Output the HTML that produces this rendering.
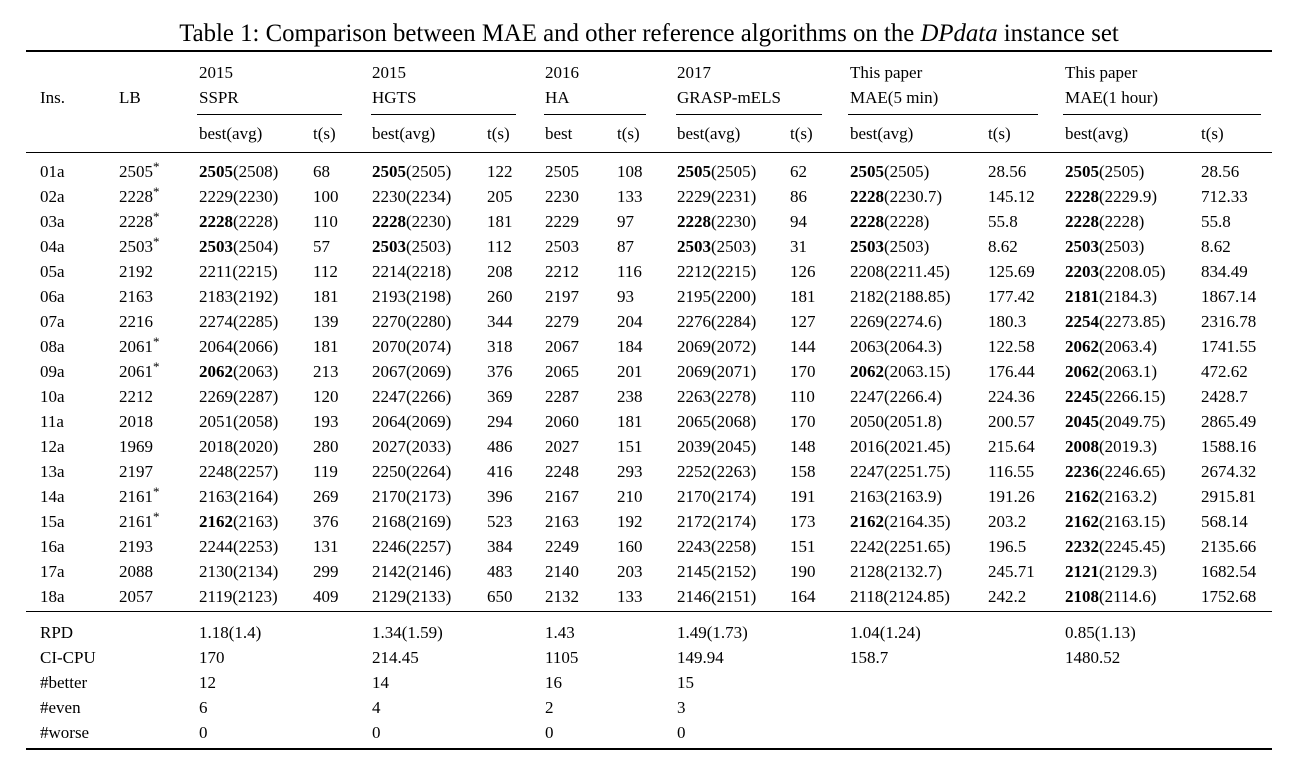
<!DOCTYPE html>
<html><head><meta charset="utf-8"><style>
body{margin:0;width:1308px;height:770px;background:#fff;font-family:"Liberation Serif",serif;color:#000;position:relative;overflow:hidden}
.t{position:absolute;left:0;top:20px;width:1298px;text-align:center;font-size:24.8px}
.r{position:absolute;left:26px;width:1246px;background:#000}
.c{position:absolute;height:1px;background:#000;top:114px}
table{position:absolute;left:40px;border-collapse:collapse;table-layout:fixed;font-size:17px}
td{padding:0;height:25px;line-height:25px;white-space:nowrap;vertical-align:middle}
sup{font-size:13px;vertical-align:6px;line-height:0}
</style></head><body>
<div class="t">Table 1: Comparison between MAE and other reference algorithms on the <i>DPdata</i> instance set</div>
<div class="r" style="top:50px;height:2px"></div>
<div class="c" style="left:197px;width:145px"></div>
<div class="c" style="left:371px;width:145px"></div>
<div class="c" style="left:544px;width:102px"></div>
<div class="c" style="left:676px;width:146px"></div>
<div class="c" style="left:848px;width:190px"></div>
<div class="c" style="left:1063px;width:198px"></div>
<div class="r" style="top:152px;height:1px"></div>
<div class="r" style="top:611px;height:1px"></div>
<div class="r" style="top:748px;height:2px"></div>
<table style="top:59.5px">
<colgroup><col style="width:79px"><col style="width:80px"><col style="width:114px"><col style="width:59px"><col style="width:115px"><col style="width:58px"><col style="width:72px"><col style="width:60px"><col style="width:113px"><col style="width:60px"><col style="width:138px"><col style="width:77px"><col style="width:136px"><col style="width:71px"></colgroup>
<tr><td></td><td></td><td>2015</td><td></td><td>2015</td><td></td><td>2016</td><td></td><td>2017</td><td></td><td>This paper</td><td></td><td>This paper</td><td></td></tr>
<tr><td>Ins.</td><td>LB</td><td>SSPR</td><td></td><td>HGTS</td><td></td><td>HA</td><td></td><td>GRASP-mELS</td><td></td><td>MAE(5 min)</td><td></td><td>MAE(1 hour)</td><td></td></tr>
<tr style="height:36px"><td></td><td></td><td style="padding-top:11px">best(avg)</td><td style="padding-top:11px">t(s)</td><td style="padding-top:11px">best(avg)</td><td style="padding-top:11px">t(s)</td><td style="padding-top:11px">best</td><td style="padding-top:11px">t(s)</td><td style="padding-top:11px">best(avg)</td><td style="padding-top:11px">t(s)</td><td style="padding-top:11px">best(avg)</td><td style="padding-top:11px">t(s)</td><td style="padding-top:11px">best(avg)</td><td style="padding-top:11px">t(s)</td></tr>
</table>
<table style="top:158.5px">
<colgroup><col style="width:79px"><col style="width:80px"><col style="width:114px"><col style="width:59px"><col style="width:115px"><col style="width:58px"><col style="width:72px"><col style="width:60px"><col style="width:113px"><col style="width:60px"><col style="width:138px"><col style="width:77px"><col style="width:136px"><col style="width:71px"></colgroup>
<tr><td>01a</td><td>2505<sup>*</sup></td><td><b>2505</b>(2508)</td><td>68</td><td><b>2505</b>(2505)</td><td>122</td><td>2505</td><td>108</td><td><b>2505</b>(2505)</td><td>62</td><td><b>2505</b>(2505)</td><td>28.56</td><td><b>2505</b>(2505)</td><td>28.56</td></tr>
<tr><td>02a</td><td>2228<sup>*</sup></td><td>2229(2230)</td><td>100</td><td>2230(2234)</td><td>205</td><td>2230</td><td>133</td><td>2229(2231)</td><td>86</td><td><b>2228</b>(2230.7)</td><td>145.12</td><td><b>2228</b>(2229.9)</td><td>712.33</td></tr>
<tr><td>03a</td><td>2228<sup>*</sup></td><td><b>2228</b>(2228)</td><td>110</td><td><b>2228</b>(2230)</td><td>181</td><td>2229</td><td>97</td><td><b>2228</b>(2230)</td><td>94</td><td><b>2228</b>(2228)</td><td>55.8</td><td><b>2228</b>(2228)</td><td>55.8</td></tr>
<tr><td>04a</td><td>2503<sup>*</sup></td><td><b>2503</b>(2504)</td><td>57</td><td><b>2503</b>(2503)</td><td>112</td><td>2503</td><td>87</td><td><b>2503</b>(2503)</td><td>31</td><td><b>2503</b>(2503)</td><td>8.62</td><td><b>2503</b>(2503)</td><td>8.62</td></tr>
<tr><td>05a</td><td>2192</td><td>2211(2215)</td><td>112</td><td>2214(2218)</td><td>208</td><td>2212</td><td>116</td><td>2212(2215)</td><td>126</td><td>2208(2211.45)</td><td>125.69</td><td><b>2203</b>(2208.05)</td><td>834.49</td></tr>
<tr><td>06a</td><td>2163</td><td>2183(2192)</td><td>181</td><td>2193(2198)</td><td>260</td><td>2197</td><td>93</td><td>2195(2200)</td><td>181</td><td>2182(2188.85)</td><td>177.42</td><td><b>2181</b>(2184.3)</td><td>1867.14</td></tr>
<tr><td>07a</td><td>2216</td><td>2274(2285)</td><td>139</td><td>2270(2280)</td><td>344</td><td>2279</td><td>204</td><td>2276(2284)</td><td>127</td><td>2269(2274.6)</td><td>180.3</td><td><b>2254</b>(2273.85)</td><td>2316.78</td></tr>
<tr><td>08a</td><td>2061<sup>*</sup></td><td>2064(2066)</td><td>181</td><td>2070(2074)</td><td>318</td><td>2067</td><td>184</td><td>2069(2072)</td><td>144</td><td>2063(2064.3)</td><td>122.58</td><td><b>2062</b>(2063.4)</td><td>1741.55</td></tr>
<tr><td>09a</td><td>2061<sup>*</sup></td><td><b>2062</b>(2063)</td><td>213</td><td>2067(2069)</td><td>376</td><td>2065</td><td>201</td><td>2069(2071)</td><td>170</td><td><b>2062</b>(2063.15)</td><td>176.44</td><td><b>2062</b>(2063.1)</td><td>472.62</td></tr>
<tr><td>10a</td><td>2212</td><td>2269(2287)</td><td>120</td><td>2247(2266)</td><td>369</td><td>2287</td><td>238</td><td>2263(2278)</td><td>110</td><td>2247(2266.4)</td><td>224.36</td><td><b>2245</b>(2266.15)</td><td>2428.7</td></tr>
<tr><td>11a</td><td>2018</td><td>2051(2058)</td><td>193</td><td>2064(2069)</td><td>294</td><td>2060</td><td>181</td><td>2065(2068)</td><td>170</td><td>2050(2051.8)</td><td>200.57</td><td><b>2045</b>(2049.75)</td><td>2865.49</td></tr>
<tr><td>12a</td><td>1969</td><td>2018(2020)</td><td>280</td><td>2027(2033)</td><td>486</td><td>2027</td><td>151</td><td>2039(2045)</td><td>148</td><td>2016(2021.45)</td><td>215.64</td><td><b>2008</b>(2019.3)</td><td>1588.16</td></tr>
<tr><td>13a</td><td>2197</td><td>2248(2257)</td><td>119</td><td>2250(2264)</td><td>416</td><td>2248</td><td>293</td><td>2252(2263)</td><td>158</td><td>2247(2251.75)</td><td>116.55</td><td><b>2236</b>(2246.65)</td><td>2674.32</td></tr>
<tr><td>14a</td><td>2161<sup>*</sup></td><td>2163(2164)</td><td>269</td><td>2170(2173)</td><td>396</td><td>2167</td><td>210</td><td>2170(2174)</td><td>191</td><td>2163(2163.9)</td><td>191.26</td><td><b>2162</b>(2163.2)</td><td>2915.81</td></tr>
<tr><td>15a</td><td>2161<sup>*</sup></td><td><b>2162</b>(2163)</td><td>376</td><td>2168(2169)</td><td>523</td><td>2163</td><td>192</td><td>2172(2174)</td><td>173</td><td><b>2162</b>(2164.35)</td><td>203.2</td><td><b>2162</b>(2163.15)</td><td>568.14</td></tr>
<tr><td>16a</td><td>2193</td><td>2244(2253)</td><td>131</td><td>2246(2257)</td><td>384</td><td>2249</td><td>160</td><td>2243(2258)</td><td>151</td><td>2242(2251.65)</td><td>196.5</td><td><b>2232</b>(2245.45)</td><td>2135.66</td></tr>
<tr><td>17a</td><td>2088</td><td>2130(2134)</td><td>299</td><td>2142(2146)</td><td>483</td><td>2140</td><td>203</td><td>2145(2152)</td><td>190</td><td>2128(2132.7)</td><td>245.71</td><td><b>2121</b>(2129.3)</td><td>1682.54</td></tr>
<tr><td>18a</td><td>2057</td><td>2119(2123)</td><td>409</td><td>2129(2133)</td><td>650</td><td>2132</td><td>133</td><td>2146(2151)</td><td>164</td><td>2118(2124.85)</td><td>242.2</td><td><b>2108</b>(2114.6)</td><td>1752.68</td></tr>
</table>
<table style="top:619.5px">
<colgroup><col style="width:79px"><col style="width:80px"><col style="width:114px"><col style="width:59px"><col style="width:115px"><col style="width:58px"><col style="width:72px"><col style="width:60px"><col style="width:113px"><col style="width:60px"><col style="width:138px"><col style="width:77px"><col style="width:136px"><col style="width:71px"></colgroup>
<tr><td>RPD</td><td></td><td>1.18(1.4)</td><td></td><td>1.34(1.59)</td><td></td><td>1.43</td><td></td><td>1.49(1.73)</td><td></td><td>1.04(1.24)</td><td></td><td>0.85(1.13)</td><td></td></tr>
<tr><td>CI-CPU</td><td></td><td>170</td><td></td><td>214.45</td><td></td><td>1105</td><td></td><td>149.94</td><td></td><td>158.7</td><td></td><td>1480.52</td><td></td></tr>
<tr><td>#better</td><td></td><td>12</td><td></td><td>14</td><td></td><td>16</td><td></td><td>15</td><td></td><td></td><td></td><td></td><td></td></tr>
<tr><td>#even</td><td></td><td>6</td><td></td><td>4</td><td></td><td>2</td><td></td><td>3</td><td></td><td></td><td></td><td></td><td></td></tr>
<tr><td>#worse</td><td></td><td>0</td><td></td><td>0</td><td></td><td>0</td><td></td><td>0</td><td></td><td></td><td></td><td></td><td></td></tr>
</table>
</body></html>
